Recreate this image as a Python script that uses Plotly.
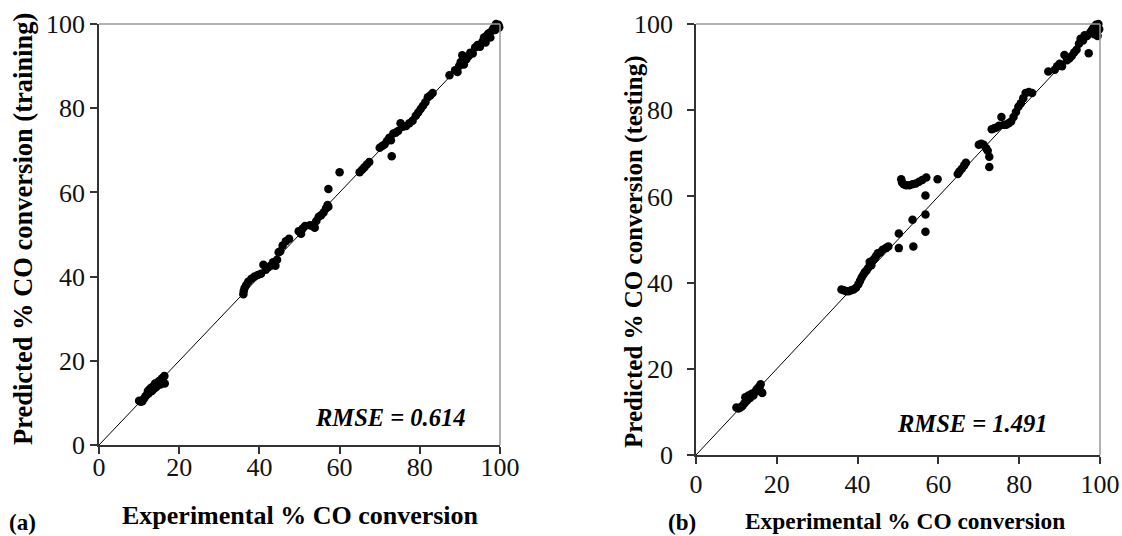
import plotly.graph_objects as go

# ---------------- data: panel (a) training ----------------
train_x = [10.0, 10.4, 10.8, 11.2, 11.6, 12.0, 12.2, 12.6, 13.0, 13.2, 13.6, 14.0, 14.3, 14.7, 15.0, 15.3, 15.7, 16.0, 16.3, 16.4, 12.4, 13.8,
           36.0, 36.1, 36.3, 36.7, 37.2, 38.0, 38.8, 39.6, 40.4, 41.0, 41.6, 42.2, 42.8, 43.4, 44.0, 44.4, 44.8, 45.2, 45.8, 46.6, 47.4,
           49.8, 50.4, 50.8, 51.4, 52.6, 53.2, 53.8, 54.2, 54.8, 55.4, 56.0, 56.6, 57.0, 57.2, 57.2, 60.0,
           65.0, 65.6, 66.2, 66.8, 67.4, 70.0, 70.6, 71.2, 71.8, 72.4, 73.0, 72.8, 73.4, 74.0, 74.6, 75.2, 75.8, 76.6, 77.4, 78.2,
           79.0, 79.6, 80.2, 80.8, 81.4, 82.0, 82.6, 83.2, 87.4, 88.8, 89.4, 89.8, 90.2, 90.6, 91.0, 91.6, 92.2, 92.6, 93.2, 93.8,
           94.4, 95.0, 95.6, 96.0, 96.4, 96.8, 97.2, 97.6, 98.0, 98.4, 98.8, 99.2, 99.6, 99.8, 99.0]
train_y = [10.5, 10.3, 10.4, 11.0, 11.6, 12.0, 12.8, 13.2, 13.6, 12.8, 14.0, 14.6, 13.8, 14.9, 15.2, 14.4, 15.8, 16.0, 16.4, 14.6, 12.3, 13.4,
           35.8, 36.6, 37.3, 38.0, 38.8, 39.5, 40.0, 40.4, 40.7, 42.8, 41.6, 42.2, 42.6, 43.4, 42.6, 44.0, 45.8, 46.0, 47.4, 48.4, 49.0,
           50.8, 50.2, 51.4, 52.0, 52.2, 52.0, 51.6, 53.2, 54.2, 54.6, 55.2, 56.2, 57.0, 56.6, 60.8, 64.8,
           64.8, 65.4, 66.0, 66.6, 67.2, 70.6, 71.0, 71.4, 72.2, 73.0, 68.6, 72.4, 74.0, 74.2, 74.6, 76.4, 75.6, 75.8, 76.4, 77.0,
           78.2, 79.0, 79.8, 80.6, 81.4, 82.6, 83.0, 83.6, 87.8, 89.0, 88.6, 90.0, 91.0, 92.6, 90.4, 91.6, 92.4, 93.2, 93.0, 94.4,
           95.0, 94.6, 95.8, 96.8, 95.6, 97.4, 97.8, 96.8, 98.4, 99.0, 98.6, 99.4, 99.8, 99.2, 100.0]

# ---------------- data: panel (b) testing ----------------
test_x = [10.0, 10.5, 11.0, 11.5, 12.0, 12.2, 12.6, 13.0, 13.4, 13.8, 14.2, 14.6, 15.0, 15.4, 15.8, 16.0, 16.2, 16.4, 12.4,
          36.0, 36.6, 37.2, 37.8, 38.4, 39.0, 39.6, 40.2, 40.6, 41.0, 41.4, 41.8, 42.2, 42.6, 43.0, 43.4, 43.8, 44.2, 44.6, 45.0,
          45.6, 46.2, 47.0, 47.6,
          50.2, 50.2, 53.8, 53.6, 56.8, 56.8, 56.8,
          50.8, 51.0, 51.4, 52.0, 52.8, 53.6, 54.4, 55.2, 56.0, 57.0, 59.8,
          64.8, 65.2, 65.8, 66.4, 66.8, 70.0, 70.6, 71.2, 71.8, 72.2, 72.6, 72.6, 73.2, 73.8, 74.4, 75.0, 75.6, 76.2, 76.8, 77.4,
          78.0, 78.6, 79.2, 79.8, 80.4, 81.0, 81.6, 82.4, 83.2, 87.2, 88.8, 89.4, 90.0, 90.6, 91.2, 91.8, 92.4, 93.0, 93.6, 94.2,
          94.8, 95.2, 95.8, 96.2, 96.8, 97.2, 97.6, 98.0, 98.4, 98.8, 99.2, 99.6, 99.8, 99.0, 98.6, 99.4]
test_y = [11.0, 10.8, 11.0, 11.4, 12.0, 13.4, 12.6, 13.8, 13.2, 14.2, 13.8, 14.6, 15.2, 15.6, 16.0, 16.4, 14.6, 14.4, 13.0,
          38.4, 38.2, 38.0, 38.0, 38.2, 38.4, 38.8, 39.6, 40.4, 41.2, 41.8, 42.4, 42.8, 43.4, 44.8, 44.0, 45.2, 45.6, 46.2, 46.8,
          47.0, 47.6, 48.0, 48.4,
          48.0, 51.4, 48.4, 54.6, 51.8, 55.8, 60.2,
          64.0, 63.2, 62.8, 62.6, 62.6, 62.8, 63.0, 63.4, 63.8, 64.4, 64.0,
          65.2, 65.8, 66.4, 67.2, 67.8, 72.0, 72.2, 72.0, 71.2, 70.6, 69.2, 66.8, 75.6, 75.8, 76.0, 76.4, 78.4, 76.6, 76.6, 77.0,
          77.4, 78.4, 79.6, 80.8, 81.6, 82.8, 84.0, 84.2, 84.0, 89.0, 89.4, 90.2, 90.8, 90.2, 92.8, 91.6, 92.0, 92.6, 93.4, 94.0,
          95.4, 96.6, 96.2, 97.4, 97.2, 93.2, 98.0, 98.6, 99.2, 98.0, 99.6, 100.0, 98.8, 99.8, 97.6, 97.2]

parity = [0, 100]
tick_vals = [0, 20, 40, 60, 80, 100]
tick_text = ["0", "20", "40", "60", "80", "100"]
rmse_text = ["RMSE = 0.614", "RMSE = 1.491"]

FONT = "Liberation Serif, Times New Roman, serif"
W, H = 1122, 536

fig = go.Figure()
for xa, ya, xs, ys in [("x", "y", train_x, train_y), ("x2", "y2", test_x, test_y)]:
    fig.add_trace(go.Scatter(x=parity, y=parity, mode="lines", xaxis=xa, yaxis=ya,
                             line=dict(color="black", width=1), showlegend=False, hoverinfo="skip"))
    fig.add_trace(go.Scatter(x=xs, y=ys, mode="markers", xaxis=xa, yaxis=ya, cliponaxis=False,
                             marker=dict(color="black", size=8.5, line=dict(width=0)), showlegend=False))

axis_common = dict(range=[0, 100], tickvals=tick_vals, ticktext=tick_text, showgrid=False, zeroline=False,
                   showline=True, linecolor="#333333", linewidth=1.5, ticks="outside", ticklen=7,
                   tickcolor="#333333", tickwidth=1.5, automargin=False,
                   tickfont=dict(family=FONT, size=26, color="#111111"))

def px(xp):
    return xp / W

def py(yp):
    return 1 - yp / H

fig.update_layout(
    width=W, height=H, margin=dict(l=0, r=0, t=0, b=0, pad=0, autoexpand=False),
    paper_bgcolor="white", plot_bgcolor="white",
    xaxis=dict(domain=[px(99), px(500)], anchor="y", ticklabelstandoff=-9, **axis_common),
    yaxis=dict(domain=[py(445), py(24)], anchor="x", **axis_common),
    xaxis2=dict(domain=[px(696), px(1100)], anchor="y2", ticklabelstandoff=-2, **axis_common),
    yaxis2=dict(domain=[py(455), py(24)], anchor="x2", ticklabelstandoff=9, **axis_common),
)

# gray top / right frame lines
shapes = []
for xr, yr in [("x domain", "y domain"), ("x2 domain", "y2 domain")]:
    shapes.append(dict(type="line", xref=xr, yref=yr, x0=0, x1=1, y0=1, y1=1, line=dict(color="#999999", width=1.5)))
    shapes.append(dict(type="line", xref=xr, yref=yr, x0=1, x1=1, y0=0, y1=1, line=dict(color="#999999", width=1.5)))
fig.update_layout(shapes=shapes)

ann = []
# RMSE labels
ann.append(dict(x=72.5, y=6.6, xref="x", yref="y", text="<b><i>" + rmse_text[0] + "</i></b>", showarrow=False,
                font=dict(family=FONT, size=24.5, color="black"), xanchor="center", yanchor="middle"))
ann.append(dict(x=68.4, y=7.2, xref="x2", yref="y2", text="<b><i>" + rmse_text[1] + "</i></b>", showarrow=False,
                font=dict(family=FONT, size=24.5, color="black"), xanchor="center", yanchor="middle"))
# axis titles
ann.append(dict(x=px(300), y=py(515), xref="paper", yref="paper", text="<b>Experimental % CO conversion</b>",
                showarrow=False, font=dict(family=FONT, size=26, color="black"), xanchor="center", yanchor="middle"))
ann.append(dict(x=px(905), y=py(521), xref="paper", yref="paper", text="<b>Experimental % CO conversion</b>",
                showarrow=False, font=dict(family=FONT, size=23.4, color="black"), xanchor="center", yanchor="middle"))
ann.append(dict(x=px(23), y=py(229), xref="paper", yref="paper", text="<b>Predicted % CO conversion (training)</b>",
                showarrow=False, textangle=-90, font=dict(family=FONT, size=26.5, color="black"),
                xanchor="center", yanchor="middle"))
ann.append(dict(x=px(634), y=py(252), xref="paper", yref="paper", text="<b>Predicted % CO conversion (testing)</b>",
                showarrow=False, textangle=-90, font=dict(family=FONT, size=25, color="black"),
                xanchor="center", yanchor="middle"))
# panel labels
ann.append(dict(x=px(22), y=py(522), xref="paper", yref="paper", text="<b>(a)</b>", showarrow=False,
                font=dict(family=FONT, size=23, color="black"), xanchor="center", yanchor="middle"))
ann.append(dict(x=px(682), y=py(522), xref="paper", yref="paper", text="<b>(b)</b>", showarrow=False,
                font=dict(family=FONT, size=23, color="black"), xanchor="center", yanchor="middle"))
fig.update_layout(annotations=ann)

fig.write_html("out.html", config={"displayModeBar": False},
               post_script="document.body.style.margin='0px';document.body.style.overflow='hidden';")
